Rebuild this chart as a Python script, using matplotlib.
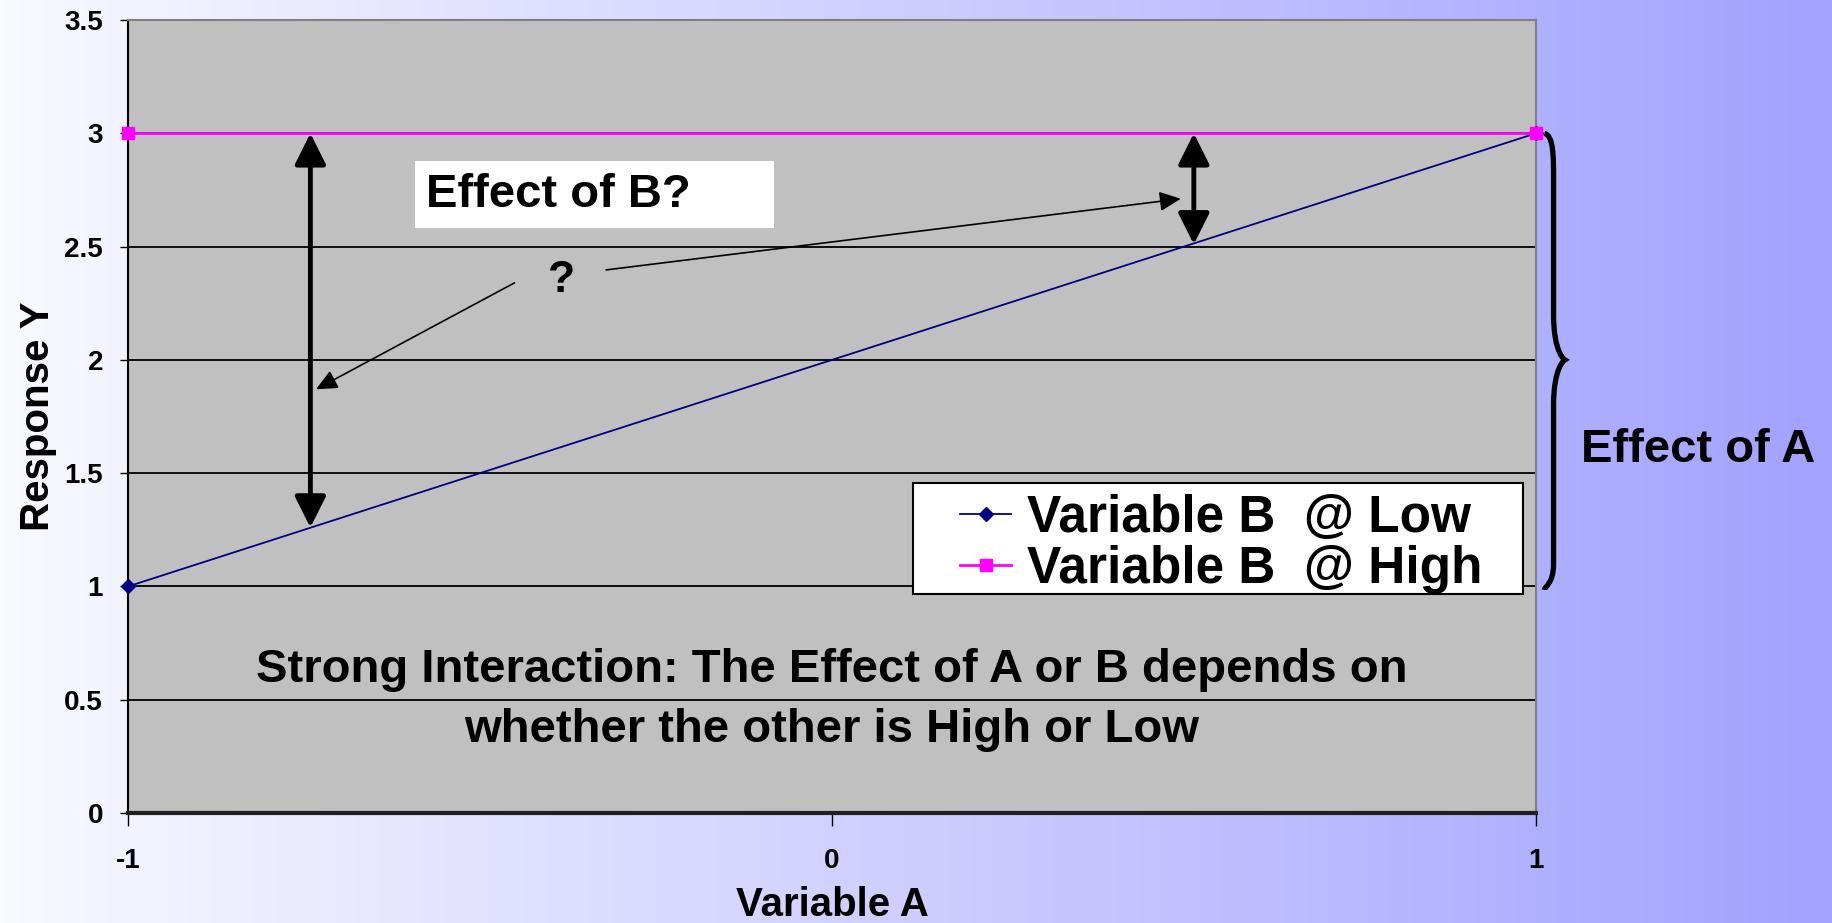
import numpy as np
import matplotlib
matplotlib.use("Agg")
import matplotlib.pyplot as plt
from matplotlib.patches import FancyArrowPatch, Rectangle, PathPatch
from matplotlib.path import Path

plt.rcParams['font.family'] = ['Liberation Sans', 'DejaVu Sans']
plt.rcParams['font.weight'] = 'bold'

# data
variable_a = [-1, 1]
b_low = [1, 3]
b_high = [3, 3]
x_ticks = [-1, 0, 1]
x_tick_labels = ['-1', '0', '1']
y_ticks = [0, 0.5, 1, 1.5, 2, 2.5, 3, 3.5]
y_tick_labels = ['0', '0.5', '1', '1.5', '2', '2.5', '3', '3.5']

fig = plt.figure(figsize=(18.32, 9.23), dpi=100)

# gradient background
bg = fig.add_axes([0, 0, 1, 1], zorder=-10)
grad = np.linspace(0, 1, 512)
c0 = np.array([249, 249, 255]) / 255
c1 = np.array([162, 162, 255]) / 255
img = c0[None, :] + grad[:, None] * (c1 - c0)[None, :]
bg.imshow(img[None, :, :], aspect='auto', extent=[0, 1, 0, 1])
bg.axis('off')

ax = fig.add_axes([0.0699, 0.1192, 0.8384 - 0.0699, 0.9783 - 0.1192])
ax.set_facecolor('#C0C0C0')
ax.set_xlim(-1, 1)
ax.set_ylim(0, 3.5)

for y in y_ticks[1:-1]:
    ax.axhline(y, color='black', lw=1.3, zorder=1)

ax.plot(variable_a, b_low, color='#000080', lw=1.3, marker='D', ms=7,
        clip_on=False, zorder=3, label='Variable B  @ Low')
ax.plot(variable_a, b_high, color='#FF00FF', lw=2, marker='s', ms=8,
        clip_on=False, zorder=3, label='Variable B  @ High')

ax.set_xticks(x_ticks)
ax.set_xticklabels(x_tick_labels)
ax.set_yticks(y_ticks)
ax.set_yticklabels(y_tick_labels)
ax.tick_params(axis='x', direction='out', length=9, width=1, pad=16, labelsize=20)
ax.tick_params(axis='y', direction='out', length=6, width=1, pad=12, labelsize=20)

for s in ['top', 'right']:
    ax.spines[s].set_color('#808080')
    ax.spines[s].set_linewidth(1.5)
ax.spines['left'].set_color('black')
ax.spines['left'].set_linewidth(1.5)
ax.spines['bottom'].set_color('#202020')
ax.spines['bottom'].set_linewidth(3)

ax.set_xlabel('Variable A', fontsize=29, fontweight='bold', labelpad=9)
ax.set_ylabel('Response Y', fontsize=29, fontweight='bold', labelpad=5)

# thick double arrows
for xa, y0, y1 in [(-0.741, 1.26, 3.0), (0.514, 2.51, 3.0)]:
    ax.add_patch(FancyArrowPatch((xa, y0), (xa, y1), arrowstyle='<|-|>,head_length=19,head_width=9.5',
                                 mutation_scale=1, color='black', lw=3.5, shrinkA=0, shrinkB=0, zorder=4))

# thin arrows from "?"
ax.add_patch(FancyArrowPatch((-0.451, 2.34), (-0.733, 1.87), arrowstyle='-|>,head_length=13,head_width=6',
                             mutation_scale=1, color='black', lw=1.2, shrinkA=0, shrinkB=0, zorder=4))
ax.add_patch(FancyArrowPatch((-0.321, 2.397), (0.4955, 2.711), arrowstyle='-|>,head_length=13,head_width=6',
                             mutation_scale=1, color='black', lw=1.2, shrinkA=0, shrinkB=0, zorder=4))
ax.text(-0.384, 2.35, '?', fontsize=32, fontweight='bold', ha='center', va='center', zorder=5)

# "Effect of B?" box
ax.add_patch(Rectangle((-0.592, 2.582), 0.51, 0.294, facecolor='white', edgecolor='none', zorder=4))
ax.text(-0.577, 2.729, 'Effect of B?', fontsize=34, fontweight='bold', ha='left', va='center', zorder=5)

# bottom caption
ax.text(0, 0.63, 'Strong Interaction: The Effect of A or B depends on', fontsize=34,
        fontweight='bold', ha='center', va='center', zorder=5)
ax.text(0, 0.365, 'whether the other is High or Low', fontsize=34,
        fontweight='bold', ha='center', va='center', zorder=5)

# brace for effect of A
verts = [(1.012, 3.0), (1.025, 2.99), (1.025, 2.9), (1.025, 2.8),
         (1.025, 2.2),
         (1.025, 2.03), (1.041, 2.0), (1.041, 2.0),
         (1.041, 2.0), (1.025, 1.97), (1.025, 1.8),
         (1.025, 1.1),
         (1.025, 1.01), (1.012, 1.0), (1.012, 0.985)]
codes = [Path.MOVETO, Path.CURVE4, Path.CURVE4, Path.CURVE4,
         Path.LINETO,
         Path.CURVE4, Path.CURVE4, Path.CURVE4,
         Path.CURVE4, Path.CURVE4, Path.CURVE4,
         Path.LINETO,
         Path.CURVE4, Path.CURVE4, Path.CURVE4]
ax.add_patch(PathPatch(Path(verts, codes), facecolor='none', edgecolor='black', lw=3.8,
                       clip_on=False, zorder=5))
ax.text(1.231, 1.6, 'Effect of A', fontsize=34, fontweight='bold', ha='center', va='center',
        clip_on=False)

# legend with a separate frame
frame = Rectangle((913 / 1832, 1 - 594 / 923), (1523 - 913) / 1832, (594 - 483) / 923,
                  transform=fig.transFigure, facecolor='white', edgecolor='black', lw=1.5)
frame.set_zorder(5)
fig.patches.append(frame)
handles, labels = ax.get_legend_handles_labels()
leg = fig.legend(handles, labels, loc='center left', bbox_to_anchor=(960 / 1832, 1 - 544 / 923),
                 bbox_transform=fig.transFigure, borderaxespad=0, frameon=False, handlelength=1.0,
                 handletextpad=0.3, labelspacing=0.03, borderpad=0, prop={'weight': 'bold', 'size': 37})
leg.set_zorder(6)

fig.savefig('out.png', dpi=100)
